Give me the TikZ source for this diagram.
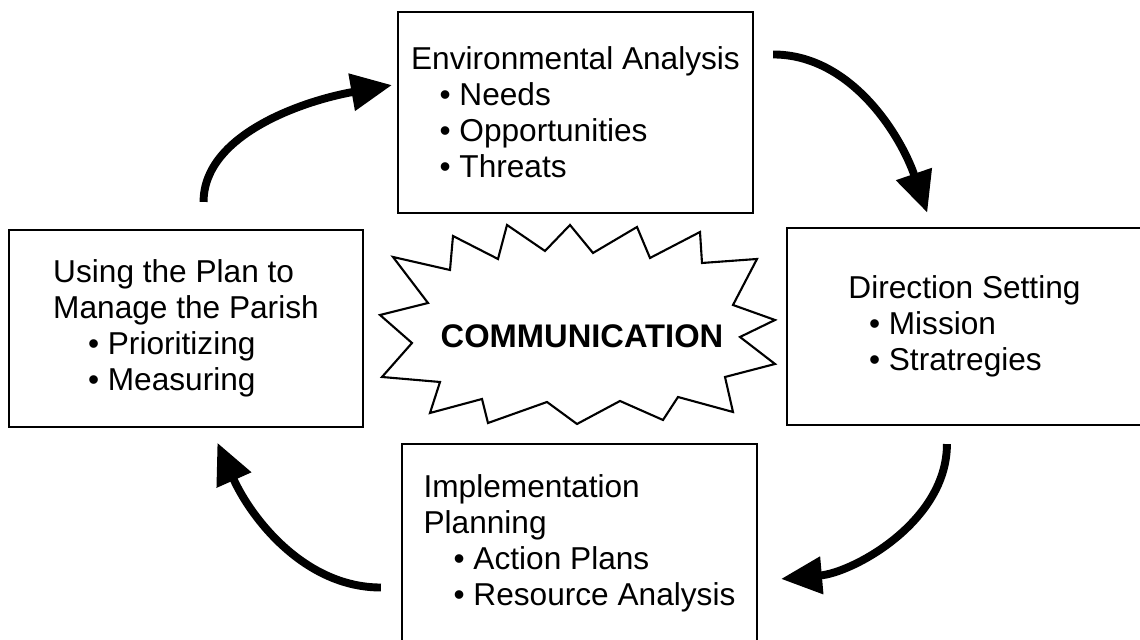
\documentclass[tikz,border=0pt]{standalone}
\usepackage{fontspec}
\setmainfont{Liberation Sans}
\usetikzlibrary{arrows.meta}

% indented bullet line
\newcommand{\bitem}[2][1em]{\hspace*{#1}\textbullet\ #2}

\begin{document}
\begin{tikzpicture}[
    every node/.style={font=\fontsize{18}{20.5}\selectfont},
    stage/.style={draw, line width=1.2pt, align=left, minimum width=7.1cm, minimum height=3.96cm},
    flow/.style={line width=4.5pt, -{Triangle[length=0.82cm, width=0.72cm]}}]
    \useasboundingbox (0,0) rectangle (22.8,12.8);
    % the four stages of the cycle
    \node[stage, minimum height=4.02cm] (env) at (11.51,10.55)
        {Environmental Analysis\\ \bitem[0.9em]{Needs}\\ \bitem[0.9em]{Opportunities}\\ \bitem[0.9em]{Threats}};
    \node[stage, minimum width=7.08cm, minimum height=3.94cm] (plan) at (3.72,6.23)
        {Using the Plan to\\ Manage the Parish\\ \bitem[1.1em]{Prioritizing}\\ \bitem[1.1em]{Measuring}};
    \node[stage, minimum height=3.94cm] (dir) at (19.29,6.27)
        {Direction Setting\\ \bitem[0.65em]{Mission}\\ \bitem[0.65em]{Stratregies}};
    \node[stage] (impl) at (11.59,1.94)
        {Implementation\\ Planning\\ \bitem[0.95em]{Action Plans}\\ \bitem[0.95em]{Resource Analysis}};
    % starburst in the middle
    \draw[line width=1.2pt, line join=miter]
        (7.86,7.66) -- (9.00,7.40) -- (9.06,8.08) -- (9.96,7.62) -- (10.14,8.30)
        -- (10.90,7.78) -- (11.40,8.30) -- (11.86,7.74) -- (12.74,8.26) -- (13.00,7.64)
        -- (14.00,8.16) -- (14.04,7.54) -- (15.14,7.62) -- (14.66,6.70) -- (15.50,6.40)
        -- (14.80,6.06) -- (15.50,5.52) -- (14.50,5.26) -- (14.66,4.56) -- (13.56,4.86)
        -- (13.26,4.40) -- (12.40,4.78) -- (11.54,4.32) -- (10.94,4.76) -- (9.76,4.34)
        -- (9.64,4.82) -- (8.60,4.54) -- (8.80,5.16) -- (7.64,5.26) -- (8.24,5.94)
        -- (7.60,6.50) -- (8.56,6.74) -- cycle;
    \node[font=\fontsize{18.6}{20.5}\selectfont\bfseries] (comm) at (11.64,6.07) {COMMUNICATION};
    % arrows round the cycle
    \draw[flow, shorten <=0.54cm, shorten >=0.1cm] (plan.80) to[out=90, in=190] (env.171);
    \draw[flow, shorten <=0.38cm, shorten >=0.3cm] (env.18) to[out=0, in=109] (dir.108);
    \draw[flow, shorten <=0.36cm, shorten >=0.46cm] (dir.260) to[out=270, in=5] (impl.348);
    \draw[flow, shorten <=0.4cm, shorten >=0.32cm] (impl.194) to[out=180, in=294] (plan.284);
\end{tikzpicture}
\end{document}
